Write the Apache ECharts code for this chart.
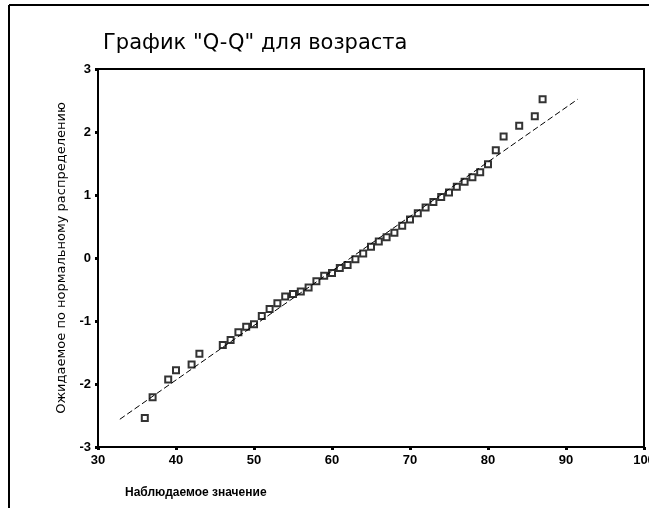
<!DOCTYPE html>
<html>
<head>
<meta charset="utf-8">
<script src="https://cdn.jsdelivr.net/npm/echarts@6/dist/echarts.min.js"></script>
<style>
html,body{margin:0;padding:0;background:#fff;}
#chart{width:649px;height:526px;}
</style>
</head>
<body>
<div id="chart"></div>
<script>
// Observed ages (x) and expected normal quantiles (y)
var observedAges = [36,37,39,40,42,43,46,47,48,49,50,51,52,53,54,55,56,57,58,59,60,61,62,63,64,65,66,67,68,69,70,71,72,73,74,75,76,77,78,79,80,81,82,84,86,87];
var expectedNormal = [-2.54,-2.21,-1.93,-1.78,-1.69,-1.52,-1.38,-1.30,-1.18,-1.09,-1.05,-0.92,-0.81,-0.72,-0.61,-0.57,-0.53,-0.47,-0.37,-0.28,-0.24,-0.16,-0.11,-0.02,0.07,0.18,0.26,0.33,0.40,0.51,0.61,0.71,0.80,0.89,0.97,1.04,1.13,1.21,1.28,1.36,1.49,1.71,1.93,2.10,2.25,2.52];
// Reference line end points
var refLineX = [32.8, 91.5];
var refLineY = [-2.56, 2.52];
var xTicks = [30,40,50,60,70,80,90,100];
var yTicks = [-3,-2,-1,0,1,2,3];

var titleText = 'График "Q-Q" для возраста';
var xTitle = 'Наблюдаемое значение';
var yTitle = 'Ожидаемое по нормальному распределению';

var pts = observedAges.map(function(a,i){return [a, expectedNormal[i]];});
var linePts = refLineX.map(function(x,i){return [x, refLineY[i]];});

var chart = echarts.init(document.getElementById('chart'), null, {renderer:'canvas'});
chart.setOption({
  animation:false,
  backgroundColor:'#fff',
  title:{
    text:titleText,
    left:98, top:28,
    textStyle:{fontFamily:'DejaVu Sans', fontSize:21, fontWeight:'normal', color:'#000'}
  },
  grid:{left:98, right:5, top:69, bottom:79, show:true, borderColor:'#000', borderWidth:2, containLabel:false, outerBoundsMode:'none'},
  xAxis:{
    type:'value', min:30, max:100, interval:10,
    axisLine:{onZero:false, lineStyle:{color:'#000', width:2}},
    axisTick:{show:true, length:3, lineStyle:{color:'#000', width:3}},
    axisLabel:{color:'#000', fontFamily:'Liberation Sans', fontWeight:'bold', fontSize:13, margin:7, hideOverlap:false},
    splitLine:{show:false}
  },
  yAxis:{
    type:'value', min:-3, max:3, interval:1,
    name:yTitle, nameLocation:'middle', nameGap:29,
    nameTextStyle:{color:'#000', fontFamily:'DejaVu Sans', fontSize:13},
    axisLine:{onZero:false, lineStyle:{color:'#000', width:2}},
    axisTick:{show:true, length:3, lineStyle:{color:'#000', width:3}},
    axisLabel:{color:'#000', fontFamily:'Liberation Sans', fontWeight:'bold', fontSize:13, margin:7},
    splitLine:{show:false}
  },
  graphic:[
    {type:'line', shape:{x1:9,y1:5,x2:649,y2:5}, style:{stroke:'#000', lineWidth:2}},
    {type:'line', shape:{x1:9,y1:5,x2:9,y2:508}, style:{stroke:'#000', lineWidth:2}},
    {type:'text', left:125, top:487, style:{text:xTitle, fill:'#000', font:'bold 12px "Liberation Sans"'}}
  ],
  series:[
    {
      type:'line', data:linePts, symbol:'none', silent:true,
      lineStyle:{color:'#000', width:1, type:[6,3]}
    },
    {
      type:'scatter', data:pts, symbol:'rect', symbolSize:6,
      itemStyle:{color:'#fff', borderColor:'#000', borderWidth:2}
    }
  ]
});
</script>
</body>
</html>
